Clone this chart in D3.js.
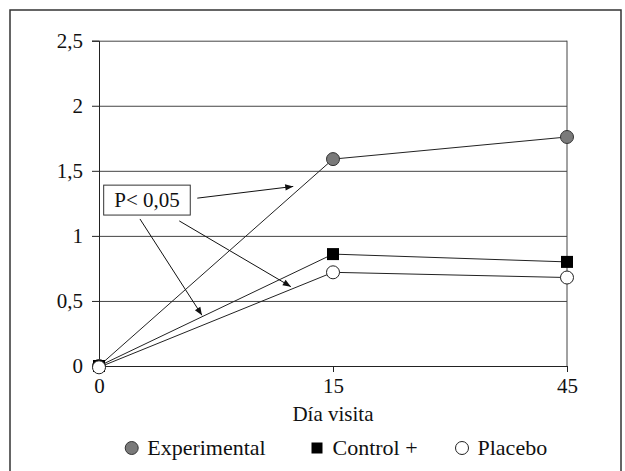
<!DOCTYPE html>
<html lang="es">
<head>
  <meta charset="UTF-8">
  <title>Día visita</title>
  <script src="https://cdn.jsdelivr.net/npm/d3@7"></script>
  <style>
    body { margin: 0; background: #fff; }
    text { font-family: "Liberation Serif", "DejaVu Serif", serif; fill: #111; }
  </style>
</head>
<body>
<div id="chart"></div>
<script>

var days = ["0", "15", "45"];
var experimental = [0, 1.59, 1.76];
var controlPlus = [0, 0.86, 0.80];
var placebo = [-0.01, 0.72, 0.68];
var yTicks = [0, 0.5, 1, 1.5, 2, 2.5];
var seriesNames = ["Experimental", "Control +", "Placebo"];

// annotation, in (day index, value) units
var noteBox = {x0: 0.02, x1: 0.39, y0: 1.39, y1: 1.16, label: "P< 0,05"};
var noteArrows = [
  {from: [0.42, 1.29], to: [0.83, 1.38]},
  {from: [0.175, 1.13], to: [0.44, 0.39]},
  {from: [0.343, 1.115], to: [0.82, 0.61]}
];

var W = 625, H = 471;
var plotL = 99, plotR = 567, plotT = 40.7, plotB = 366;

var svg = d3.select("#chart").append("svg")
    .attr("width", W)
    .attr("height", H);

svg.append("defs").append("marker")
    .attr("id", "head")
    .attr("viewBox", "0 0 10 10")
    .attr("refX", 10).attr("refY", 5)
    .attr("markerWidth", 10).attr("markerHeight", 8)
    .attr("markerUnits", "userSpaceOnUse")
    .attr("orient", "auto")
    .append("path")
    .attr("d", "M0,1 L10,5 L0,9 Z")
    .attr("fill", "#111");

// outer frame
svg.append("rect")
    .attr("x", 10).attr("y", 10)
    .attr("width", 611).attr("height", 490)
    .attr("fill", "none")
    .attr("stroke", "#333")
    .attr("stroke-width", 1.5);

var x = d3.scalePoint().domain(days).range([plotL, plotR]);
var xi = d3.scaleLinear().domain([0, days.length - 1]).range([plotL, plotR]);
var y = d3.scaleLinear().domain([0, 2.5]).range([plotB, plotT]);

var fmt = function(d) { return String(d).replace(".", ","); };

// gridlines
svg.append("g")
    .attr("transform", "translate(" + plotL + ",0)")
    .call(d3.axisLeft(y).tickValues(yTicks).tickSize(-(plotR - plotL)).tickFormat(""))
    .call(function(g) {
      g.select(".domain").remove();
      g.selectAll("line").attr("stroke", "#444").attr("stroke-width", 1);
    });

// right border of the plot
svg.append("line")
    .attr("x1", plotR).attr("x2", plotR)
    .attr("y1", y(2.5)).attr("y2", y(0))
    .attr("stroke", "#444");

var yAxis = svg.append("g")
    .attr("transform", "translate(" + plotL + ",0)")
    .call(d3.axisLeft(y).tickValues(yTicks).tickFormat(fmt).tickSize(7).tickPadding(9));
yAxis.selectAll("text").style("font-size", "21px");
yAxis.selectAll("line, path").attr("stroke", "#222");
yAxis.attr("font-family", null);

var xAxis = svg.append("g")
    .attr("transform", "translate(0," + plotB + ")")
    .call(d3.axisBottom(x).tickSize(6).tickPadding(6).tickSizeOuter(0));
xAxis.selectAll("text").style("font-size", "21px");
xAxis.selectAll("line, path").attr("stroke", "#222");
xAxis.attr("font-family", null);

svg.append("text")
    .attr("x", x("15"))
    .attr("y", 421)
    .attr("text-anchor", "middle")
    .style("font-size", "21px")
    .text("Día visita");

// series
var line = d3.line()
    .x(function(d, i) { return x(days[i]); })
    .y(function(d) { return y(d); });

[experimental, controlPlus, placebo].forEach(function(s) {
  svg.append("path")
      .datum(s)
      .attr("d", line)
      .attr("fill", "none")
      .attr("stroke", "#222")
      .attr("stroke-width", 1);
});

svg.selectAll("circle.exp")
    .data(experimental)
    .enter().append("circle")
    .attr("class", "exp")
    .attr("cx", function(d, i) { return x(days[i]); })
    .attr("cy", function(d) { return y(d); })
    .attr("r", 6.5)
    .attr("fill", "#7a7a7a")
    .attr("stroke", "#333");

svg.selectAll("rect.ctl")
    .data(controlPlus)
    .enter().append("rect")
    .attr("class", "ctl")
    .attr("x", function(d, i) { return x(days[i]) - 6; })
    .attr("y", function(d) { return y(d) - 6; })
    .attr("width", 12).attr("height", 12)
    .attr("fill", "#000");

svg.selectAll("circle.pla")
    .data(placebo)
    .enter().append("circle")
    .attr("class", "pla")
    .attr("cx", function(d, i) { return x(days[i]); })
    .attr("cy", function(d) { return y(d); })
    .attr("r", 6.5)
    .attr("fill", "#fff")
    .attr("stroke", "#222");

// annotation
svg.append("rect")
    .attr("x", xi(noteBox.x0)).attr("y", y(noteBox.y0))
    .attr("width", xi(noteBox.x1) - xi(noteBox.x0))
    .attr("height", y(noteBox.y1) - y(noteBox.y0))
    .attr("fill", "#fff")
    .attr("stroke", "#333");

svg.append("text")
    .attr("x", (xi(noteBox.x0) + xi(noteBox.x1)) / 2)
    .attr("y", (y(noteBox.y0) + y(noteBox.y1)) / 2 + 7)
    .attr("text-anchor", "middle")
    .style("font-size", "21px")
    .text(noteBox.label);

svg.selectAll("line.arrow")
    .data(noteArrows)
    .enter().append("line")
    .attr("class", "arrow")
    .attr("x1", function(d) { return xi(d.from[0]); })
    .attr("y1", function(d) { return y(d.from[1]); })
    .attr("x2", function(d) { return xi(d.to[0]); })
    .attr("y2", function(d) { return y(d.to[1]); })
    .attr("stroke", "#111")
    .attr("stroke-width", 1)
    .attr("marker-end", "url(#head)");

// legend
var legendX = [131.7, 317, 462];
var legendY = 448;
var legend = svg.append("g");

legend.append("circle")
    .attr("cx", legendX[0]).attr("cy", legendY).attr("r", 6.5)
    .attr("fill", "#7a7a7a").attr("stroke", "#333");
legend.append("rect")
    .attr("x", legendX[1] - 5.5).attr("y", legendY - 5.5)
    .attr("width", 11).attr("height", 11)
    .attr("fill", "#000");
legend.append("circle")
    .attr("cx", legendX[2]).attr("cy", legendY).attr("r", 6.5)
    .attr("fill", "#fff").attr("stroke", "#222");

legend.selectAll("text")
    .data(seriesNames)
    .enter().append("text")
    .attr("x", function(d, i) { return legendX[i] + 15.5; })
    .attr("y", legendY + 7)
    .style("font-size", "22px")
    .text(function(d) { return d; });

</script>
</body>
</html>
